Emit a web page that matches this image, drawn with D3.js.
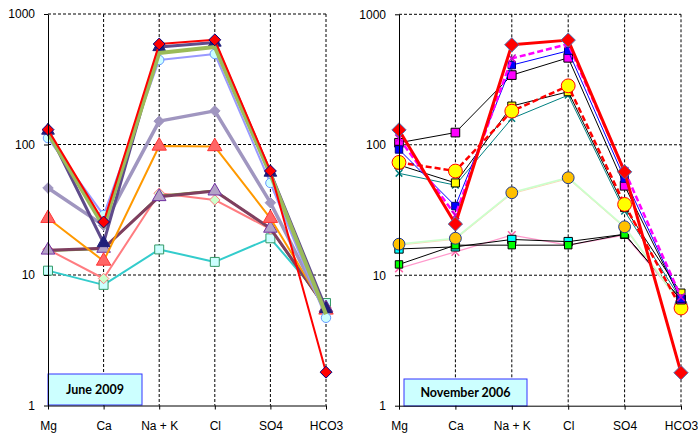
<!DOCTYPE html>
<html lang="en">
<head>
<meta charset="UTF-8">
<title>Ion concentrations</title>
<script src="https://d3js.org/d3.v7.min.js"></script>
<style>
  body { margin: 0; background: #fff; }
  svg { display: block; }
  .axis text { font-family: "Liberation Sans", Arial, sans-serif; font-size: 12px; fill: #000; }
  .axis path, .axis line { stroke: #000; }
  .boxlabel { font-family: Lato, "Open Sans", sans-serif; font-weight: bold; font-size: 12.5px; fill: #000; }
</style>
</head>
<body>
<div id="chart"></div>
<script>
const categories = ["Mg", "Ca", "Na + K", "Cl", "SO4", "HCO3"];
const yTicks = [1, 10, 100, 1000];

// June 2009 (left panel)
const jTeal     = [10.8, 8.4, 15.7, 12.6, 19.1, 6.1];
const jSalmon   = [15.7, 9.4, 42.3, 37.6, 22.5, 5.6];
const jOlive    = [15.3, 15.8, 40.5, 44.5, 22.6, 5.5];
const jMaroon   = [15.5, 16.0, 39.8, 44.0, 22.8, 5.6];
const jOrange   = [27.2, 12.8, 97.4, 96.5, 27.2, 5.4];
const jLilac    = [46.4, 24.0, 151, 181, 35.8, 5.2];
const jSky      = [112, 28.8, 444, 494, 50.7, 4.7];
const jSage     = [122, 23.5, 503, 559, 59, 5.0];
const jPurple   = [128, 17.6, 559, 605, 61, 5.5];
const jRed      = [130, 25.5, 589, 634, 62.7, 1.8];

// November 2006 (right panel)
const nPink     = [11.3, 15.1, 20.3, 17.0, 20.3, 6.3];
const nCyan     = [15.9, 16.5, 18.8, 18.1, 20.6, 6.5];
const nGreen    = [12.1, 17.0, 17.0, 17.0, 20.6, 6.5];
const nPeach    = [17.3, 19.2, 42.9, 55.9, 23.5, 6.0];
const nTeal     = [60.4, 49.0, 159, 240, 31, 6.5];
const nBlackY   = [70, 51, 198, 255, 33, 7.3];
const nRedDash  = [73.3, 62.9, 181, 283, 34.9, 5.6];
const nBlackM   = [103.6, 124, 342, 464, 48.5, 6.5];
const nBlue     = [92, 33.9, 408, 525, 55, 6.6];
const nMagenta  = [112, 28.9, 459, 591, 63, 6.8];
const nRed      = [130, 24.7, 584, 634, 62, 1.79];

const leftSeries = [
  { v: jTeal,   stroke: "#33cccc", w: 2,   sym: "square",   size: 80, fill: "#ccffff", edge: "#339966" },
  { v: jSalmon, stroke: "#ff7c80", w: 2,   sym: "diamond",  size: 70, fill: "#ccffcc", edge: "#ff7c80" },
  { v: jOlive,  stroke: "#76923c", w: 2,   sym: null },
  { v: jMaroon, stroke: "#7f3f5f", w: 3,   sym: "triangle", size: 80, fill: "#b3a2c7", edge: "#7030a0" },
  { v: jOrange, stroke: "#ff9900", w: 2,   sym: "triangle", size: 90, fill: "#ff6666", edge: "#ff3333" },
  { v: jLilac,  stroke: "#a096c0", w: 3.5, sym: "diamond",  size: 70, fill: "#a096c0", edge: "#a096c0" },
  { v: jSky,    stroke: "#9999ff", w: 2,   sym: "circle",   size: 70, fill: "#ccffff", edge: "#6699ff" },
  { v: jPurple, stroke: "#5f4b8b", w: 3,   sym: "triangle", size: 70, fill: "#1f1f7a", edge: "#1f1f7a" },
  { v: jSage,   stroke: "#9bbb59", w: 4,   sym: null },
  { v: jRed,    stroke: "#ff0000", w: 2,   sym: "diamond",  size: 90, fill: "#ff0000", edge: "#000080" }
];

const rightSeries = [
  { v: nPink,    stroke: "#ff99cc", w: 1.2, sym: "cross",   size: 40, fill: "#ff99cc", edge: "#ff66aa" },
  { v: nCyan,    stroke: "#000000", w: 1,   sym: "square",  size: 70, fill: "#00ffff", edge: "#000000" },
  { v: nGreen,   stroke: "#000000", w: 1,   sym: "square",  size: 55, fill: "#00ff00", edge: "#000000" },
  { v: nPeach,   stroke: "#ccffcc", w: 1.8, sym: "circle",  size: 110, fill: "#ffc000", edge: "#1f3a93", second: "#fcd5b4" },
  { v: nTeal,    stroke: "#008080", w: 1,   sym: "cross",   size: 30, fill: "#008080", edge: "#008080" },
  { v: nBlackY,  stroke: "#000000", w: 1,   sym: "square",  size: 65, fill: "#ffff00", edge: "#000000" },
  { v: nRedDash, stroke: "#ff0000", w: 2.5, dash: "6,3", sym: "circle", size: 150, fill: "#ffff00", edge: "#ff0000" },
  { v: nBlackM,  stroke: "#000000", w: 1,   sym: "square",  size: 75, fill: "#ff00ff", edge: "#000000" },
  { v: nBlue,    stroke: "#0000ff", w: 1,   sym: "square",  size: 55, fill: "#0000ff", edge: "#000080" },
  { v: nMagenta, stroke: "#ff00ff", w: 2.5, dash: "6,3", sym: "cross", size: 40, fill: "#cc00cc", edge: "#cc00cc" },
  { v: nRed,     stroke: "#ff0000", w: 3,   sym: "diamond", size: 130, fill: "#ff0000", edge: "#4f6faf" }
];

const svg = d3.select("#chart").append("svg")
  .attr("width", 698)
  .attr("height", 436);

const symbols = {
  square: d3.symbolSquare,
  diamond: d3.symbolDiamond2,
  triangle: d3.symbolTriangle,
  circle: d3.symbolCircle,
  cross: d3.symbolX
};

function drawPanel(series, x0, x1, yBottom, yTop, label, box) {
  const x = d3.scalePoint().domain(categories).range([x0, x1]).padding(0);
  const y = d3.scaleLog().domain([1, 1000]).range([yBottom, yTop]);
  const g = svg.append("g");

  // dashed grid
  g.selectAll(".hgrid").data(yTicks.slice(1)).join("line")
    .attr("x1", x0).attr("x2", x1)
    .attr("y1", d => y(d)).attr("y2", d => y(d))
    .attr("stroke", "#000").attr("stroke-width", 1).attr("stroke-dasharray", "3,2");
  g.selectAll(".vgrid").data(categories.slice(1)).join("line")
    .attr("x1", d => x(d)).attr("x2", d => x(d))
    .attr("y1", yTop).attr("y2", yBottom)
    .attr("stroke", "#000").attr("stroke-width", 1).attr("stroke-dasharray", "3,2");

  // label box
  g.append("rect")
    .attr("x", box[0]).attr("y", box[1]).attr("width", box[2]).attr("height", box[3])
    .attr("fill", "#ccffff").attr("stroke", "#3333ff").attr("stroke-width", 1);
  g.append("text").attr("class", "boxlabel")
    .attr("x", box[0] + box[2] / 2).attr("y", box[1] + box[3] / 2 + 4.5)
    .attr("text-anchor", "middle").text(label);

  const line = d3.line().x((d, i) => x(categories[i])).y(d => y(d));

  series.forEach(s => {
    if (s.second) {
      g.append("path").attr("d", line(s.v)).attr("fill", "none")
        .attr("stroke", s.second).attr("stroke-width", 1)
        .attr("transform", "translate(0,1)");
    }
    g.append("path").attr("d", line(s.v)).attr("fill", "none")
      .attr("stroke", s.stroke).attr("stroke-width", s.w)
      .attr("stroke-linejoin", "round")
      .attr("stroke-dasharray", s.dash || null);
    if (s.sym) {
      g.selectAll(null).data(s.v).join("path")
        .attr("transform", (d, i) => `translate(${x(categories[i])},${y(d)})`)
        .attr("d", d3.symbol().type(symbols[s.sym]).size(s.size))
        .attr("fill", s.fill).attr("stroke", s.edge)
        .attr("stroke-width", s.sym === "cross" ? 1.5 : 1);
    }
  });

  // axes
  g.append("g").attr("class", "axis")
    .attr("transform", `translate(${x0},0)`)
    .call(d3.axisLeft(y).tickValues(yTicks).tickFormat(d3.format("d")).tickSize(4).tickPadding(9).tickSizeOuter(0));
  g.append("g").attr("class", "axis")
    .attr("transform", `translate(0,${yBottom})`)
    .call(d3.axisBottom(x).tickSize(4).tickPadding(12).tickSizeOuter(0));
}

drawPanel(leftSeries, 48, 326, 405.5, 14, "June 2009", [48, 374, 94, 31]);
drawPanel(rightSeries, 399, 681, 405.7, 14.3, "November 2006", [404, 379, 123, 27]);
</script>
</body>
</html>
